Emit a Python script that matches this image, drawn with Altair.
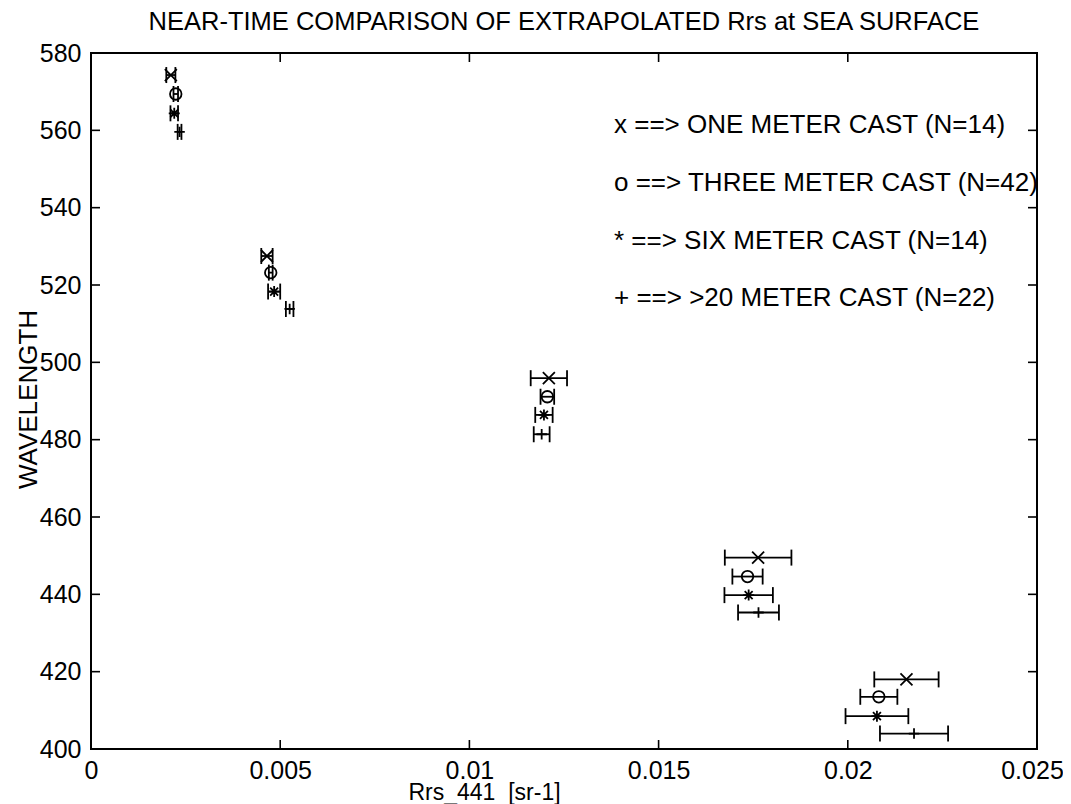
import altair as alt
import pandas as pd

# ---------------- data ----------------
series = ["ONE", "THREE", "SIX", "GT20"]

wl_one = [574.3, 527.5, 495.9, 449.5, 418.0]
rrs_one = [0.00211, 0.00465, 0.01210, 0.01763, 0.02155]
err_one = [0.00012, 0.00015, 0.00048, 0.00088, 0.00085]

wl_three = [569.4, 523.2, 491.1, 444.6, 413.5]
rrs_three = [0.00224, 0.00475, 0.01206, 0.01735, 0.02082]
err_three = [0.00006, 0.00005, 0.00018, 0.00040, 0.00049]

wl_six = [564.4, 518.3, 486.4, 439.8, 408.5]
rrs_six = [0.00220, 0.00484, 0.01197, 0.01738, 0.02077]
err_six = [0.00010, 0.00016, 0.00023, 0.00064, 0.00083]

wl_gt20 = [559.6, 513.8, 481.4, 435.3, 404.0]
rrs_gt20 = [0.00234, 0.00525, 0.01191, 0.01764, 0.02175]
err_gt20 = [0.00005, 0.00010, 0.00021, 0.00054, 0.00090]

legend_labels = [
    "x ==> ONE METER CAST (N=14)",
    "o ==> THREE METER CAST (N=42)",
    "* ==> SIX METER CAST (N=14)",
    "+ ==> >20 METER CAST (N=22)",
]
title_text = "NEAR-TIME COMPARISON OF EXTRAPOLATED Rrs at SEA SURFACE"
x_title = "Rrs_441\u00a0\u00a0[sr-1]"
y_title = "WAVELENGTH"
x_ticks = [0, 0.005, 0.01, 0.015, 0.02, 0.025]
y_ticks = [400, 420, 440, 460, 480, 500, 520, 540, 560, 580]

# ---------------- build table ----------------
rows = []
for name, wls, vals, errs in [
    ("ONE", wl_one, rrs_one, err_one),
    ("THREE", wl_three, rrs_three, err_three),
    ("SIX", wl_six, rrs_six, err_six),
    ("GT20", wl_gt20, rrs_gt20, err_gt20),
]:
    for w, v, e in zip(wls, vals, errs):
        rows.append({"series": name, "wl": w, "val": v, "lo": v - e, "hi": v + e})
df = pd.DataFrame(rows)

W, H = 946, 696
FONT = "Liberation Sans"
TK = 9  # inward tick length

xs = alt.Scale(domain=[0, 0.025], nice=False, zero=False)
ys = alt.Scale(domain=[400, 580], nice=False, zero=False)

x_axis = alt.Axis(
    values=x_ticks, format="~g", ticks=False, domain=False, grid=False,
    labelFont=FONT, labelFontSize=25, labelColor="black", labelPadding=9,
    labelFlush=False, labelOverlap=False,
    labelOffset={"expr": "datum.value >= 0.025 ? -5 : 0"},
    title=x_title, titleFont=FONT, titleFontSize=23, titleFontWeight="normal",
    titleColor="black", titleX=393, titleY=43, titleAlign="center",
    titleBaseline="middle",
)
y_axis = alt.Axis(
    values=y_ticks, ticks=False, domain=False, grid=False,
    labelFont=FONT, labelFontSize=25, labelColor="black", labelPadding=10,
    labelOverlap=False,
    title=y_title, titleFont=FONT, titleFontSize=26, titleFontWeight="normal",
    titleColor="black", titleX=-63, titleY=346, titleAngle=270,
    titleAlign="center", titleBaseline="middle",
)

def X(field):
    return alt.X(field, type="quantitative", scale=xs, axis=x_axis)

def Y(field):
    return alt.Y(field, type="quantitative", scale=ys, axis=y_axis)

base = alt.Chart(df)
SW = 1.8

bars = base.mark_rule(color="black", strokeWidth=SW).encode(
    x=X("lo"), x2="hi", y=Y("wl")
)
cap_shape = "M0,-1L0,1"
cap_lo = base.mark_point(shape=cap_shape, size=256, filled=False, color="black",
                         strokeWidth=SW, opacity=1).encode(x=X("lo"), y=Y("wl"))
cap_hi = base.mark_point(shape=cap_shape, size=256, filled=False, color="black",
                         strokeWidth=SW, opacity=1).encode(x=X("hi"), y=Y("wl"))

shape_range = [
    "M-1,-1L1,1M-1,1L1,-1",
    "circle",
    "M-1,0L1,0M0,-1L0,1M-0.72,-0.72L0.72,0.72M-0.72,0.72L0.72,-0.72",
    "M-1,0L1,0M0,-1L0,1",
]
markers = base.mark_point(filled=False, color="black", strokeWidth=SW, opacity=1).encode(
    x=X("val"), y=Y("wl"),
    shape=alt.Shape("series:N", scale=alt.Scale(domain=series, range=shape_range), legend=None),
    size=alt.Size("series:N", scale=alt.Scale(domain=series, range=[144, 110, 144, 144]), legend=None),
)

ydf = pd.DataFrame({"t": y_ticks})
xdf = pd.DataFrame({"t": x_ticks})
tick_left = alt.Chart(ydf).mark_rule(color="black", strokeWidth=1.6).encode(
    y=Y("t"), x=alt.value(0), x2=alt.value(TK))
tick_right = alt.Chart(ydf).mark_rule(color="black", strokeWidth=1.6).encode(
    y=Y("t"), x=alt.value(W - TK), x2=alt.value(W))
tick_bottom = alt.Chart(xdf).mark_rule(color="black", strokeWidth=1.6).encode(
    x=X("t"), y=alt.value(H - TK), y2=alt.value(H))
tick_top = alt.Chart(xdf).mark_rule(color="black", strokeWidth=1.6).encode(
    x=X("t"), y=alt.value(0), y2=alt.value(TK))

legend_y = [72, 130, 188, 245]
legend_layers = []
for lab, yy in zip(legend_labels, legend_y):
    legend_layers.append(
        alt.Chart(pd.DataFrame({"t": [lab]})).mark_text(
            align="left", baseline="middle", font=FONT, fontSize=26, color="black"
        ).encode(text="t:N", x=alt.value(523), y=alt.value(yy))
    )

title_layer = alt.Chart(pd.DataFrame({"t": [title_text]})).mark_text(
    align="center", baseline="middle", font=FONT, fontSize=25.5, color="black"
).encode(text="t:N", x=alt.value(W / 2), y=alt.value(-31))

chart = alt.layer(
    tick_left, tick_right, tick_bottom, tick_top,
    bars, cap_lo, cap_hi, markers, title_layer, *legend_layers
).properties(
    width=W, height=H,
    autosize=alt.AutoSizeParams(type="none"),
    padding={"left": 83, "top": 45, "right": 26, "bottom": 55},
    background="white",
).configure_view(stroke="black", strokeWidth=2)

chart.save("out.html", embed_options={"renderer": "svg", "actions": False})
